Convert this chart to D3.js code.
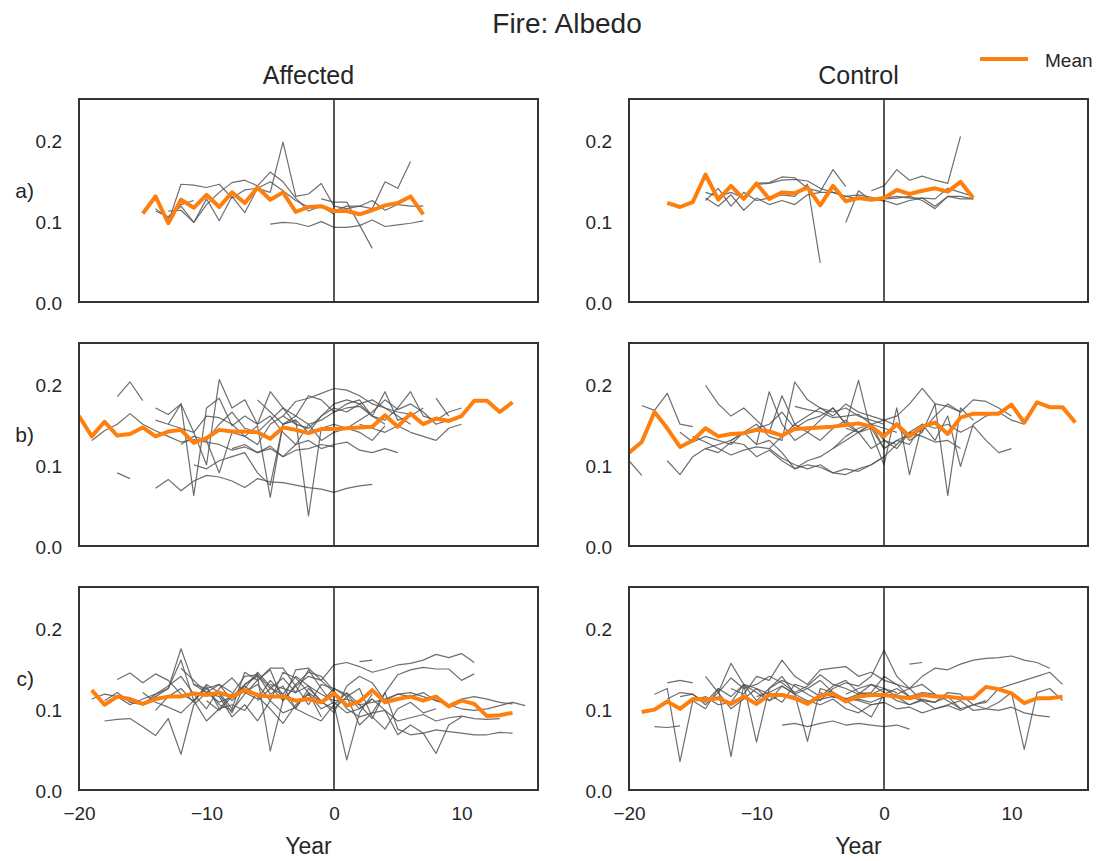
<!DOCTYPE html>
<html>
<head>
<meta charset="utf-8">
<script src="https://cdn.jsdelivr.net/npm/d3@7"></script>
<style>
body { margin: 0; background: #fff; }
text { font-family: "Liberation Sans", Arial, sans-serif; fill: #262626; }
</style>
</head>
<body>
<svg id="fig" width="1110" height="861"></svg>
<script>
// labels / ticks
var title = "Fire: Albedo";
var colTitles = ["Affected", "Control"];
var rowLabels = ["a)", "b)", "c)"];
var yTicks = [0, 0.1, 0.2];
var xTicks = [-20, -10, 0, 10];

// mean series: [first year, values]
var meanAffectedA = [-15, [0.109,0.130,0.097,0.126,0.116,0.132,0.117,0.135,0.122,0.141,0.126,0.135,0.111,0.117,0.118,0.112,0.112,0.108,0.113,0.119,0.122,0.130,0.108]];
var meanControlA = [-17, [0.122,0.117,0.123,0.157,0.126,0.143,0.127,0.146,0.127,0.135,0.134,0.141,0.119,0.143,0.124,0.128,0.126,0.128,0.138,0.133,0.137,0.140,0.136,0.148,0.128]];
var meanAffectedB = [-20, [0.160,0.135,0.153,0.136,0.138,0.146,0.135,0.141,0.143,0.127,0.133,0.143,0.141,0.141,0.140,0.132,0.146,0.143,0.139,0.144,0.144,0.145,0.146,0.147,0.161,0.147,0.163,0.150,0.157,0.154,0.160,0.179,0.179,0.165,0.177]];
var meanControlB = [-20, [0.115,0.128,0.165,0.145,0.122,0.130,0.145,0.135,0.138,0.139,0.143,0.141,0.136,0.144,0.145,0.146,0.147,0.149,0.151,0.147,0.135,0.150,0.135,0.147,0.152,0.138,0.158,0.163,0.163,0.163,0.174,0.152,0.177,0.171,0.171,0.152]];
var meanAffectedC = [-19, [0.123,0.105,0.115,0.112,0.106,0.112,0.115,0.115,0.119,0.117,0.120,0.115,0.123,0.117,0.115,0.115,0.110,0.112,0.108,0.119,0.104,0.109,0.123,0.108,0.112,0.115,0.110,0.115,0.103,0.110,0.106,0.091,0.092,0.095]];
var meanControlC = [-19, [0.096,0.099,0.109,0.100,0.112,0.111,0.113,0.106,0.115,0.106,0.117,0.117,0.113,0.106,0.116,0.119,0.109,0.115,0.117,0.117,0.115,0.113,0.117,0.115,0.115,0.113,0.113,0.127,0.124,0.119,0.107,0.113,0.113,0.115]];

// individual sites: [first year, values]
var greyAffectedA = [
  [-13, [0.098,0.145,0.144,0.141,0.145,0.128,0.138,0.140,0.148,0.137,0.125,0.117]],
  [-14, [0.115,0.103,0.118,0.098,0.120,0.135,0.147,0.150,0.143,0.160,0.148,0.128,0.112,0.118,0.108]],
  [-13, [0.112,0.113,0.098,0.127,0.100,0.130,0.110,0.140,0.135,0.197,0.130,0.133,0.146,0.118,0.115,0.118,0.115,0.148,0.140,0.173]],
  [-5, [0.096,0.098,0.097,0.093,0.099,0.092,0.092,0.094,0.101,0.093,0.095,0.097,0.100]],
  [-1, [0.127,0.123,0.123,0.095,0.066]],
  [0, [0.112,0.118,0.118,0.125,0.113,0.120,0.118,0.118]],
  [-14, [0.112,0.105,0.120,0.125]]
];
var greyControlA = [
  [-14, [0.128,0.118,0.132,0.113,0.128,0.120,0.125,0.120,0.132,0.135,0.135,0.130,0.127,0.126,0.125,0.120,0.125,0.128,0.127,0.140,0.135,0.130]],
  [-14, [0.125,0.140,0.118,0.135,0.125,0.128,0.132,0.130,0.145,0.048]],
  [-10, [0.146,0.147,0.154,0.153,0.140,0.136,0.163,0.142]],
  [-3, [0.098,0.137,0.125,0.127,0.128,0.130,0.125,0.115,0.130,0.127,0.127]],
  [-1, [0.137,0.143,0.163,0.150,0.155,0.150,0.146,0.204]],
  [0, [0.128,0.130,0.128,0.128,0.118,0.130,0.130,0.127]],
  [-14, [0.135,0.130,0.135,0.128,0.145,0.146,0.150,0.151,0.149,0.140,0.135,0.130,0.132,0.129,0.124]]
];
var greyAffectedB = [
  [-17, [0.184,0.202,0.179]],
  [-17, [0.090,0.083]],
  [-14, [0.071,0.082,0.068,0.080,0.087,0.085,0.080,0.072,0.083,0.079,0.078,0.075,0.072,0.070,0.066,0.071,0.074,0.076]],
  [-19, [0.130,0.142,0.150,0.163,0.150,0.142,0.135,0.128,0.131,0.128,0.125,0.118,0.122,0.115,0.123,0.110,0.118,0.120,0.125,0.122]],
  [-14, [0.170,0.162,0.175,0.140,0.100,0.205,0.170,0.180,0.150,0.160,0.140,0.125,0.150,0.155,0.165,0.170,0.172,0.160,0.150]],
  [-13, [0.150,0.175,0.062,0.170,0.182,0.148,0.160,0.150,0.190,0.170,0.160,0.185,0.180,0.165,0.175,0.180,0.160,0.190,0.155,0.160,0.170]],
  [-12, [0.125,0.135,0.130,0.090,0.140,0.135,0.148,0.060,0.150,0.160,0.150,0.130,0.140,0.145,0.155,0.165,0.180,0.168,0.175,0.165,0.150,0.155]],
  [-11, [0.100,0.095,0.105,0.110,0.115,0.090,0.075,0.150,0.155,0.037,0.145,0.150,0.145,0.140,0.130,0.148]],
  [-6, [0.180,0.165,0.150,0.155,0.140,0.160,0.175,0.180,0.175,0.160,0.155,0.170,0.190,0.160,0.155,0.165,0.170]],
  [-4, [0.160,0.178,0.182,0.188,0.194,0.192,0.185,0.175,0.170,0.165,0.162]],
  [8, [0.182,0.160]],
  [2, [0.150,0.145,0.140,0.148,0.140,0.135,0.130,0.145,0.150]],
  [-8, [0.120,0.125,0.115,0.120,0.110,0.125,0.130,0.120,0.125,0.128,0.118,0.115,0.120,0.115]],
  [-14, [0.155,0.150,0.145,0.140,0.160,0.158,0.150,0.135,0.125,0.150,0.160,0.150,0.145]],
  [-10, [0.130,0.150,0.165,0.145,0.140,0.155,0.170,0.150,0.145,0.160,0.170,0.165,0.175,0.180,0.170,0.160,0.150]]
];
var greyControlB = [
  [-20, [0.105,0.087]],
  [-19, [0.173,0.167,0.188,0.150,0.147]],
  [-17, [0.105,0.088,0.110,0.120,0.115,0.128,0.125,0.110,0.118,0.105,0.095,0.100,0.097,0.090,0.095,0.092,0.100,0.110,0.125]],
  [-14, [0.198,0.175,0.160,0.170,0.155,0.140,0.185,0.150,0.160,0.170,0.165,0.170,0.160,0.155,0.150]],
  [-14, [0.120,0.125,0.130,0.140,0.150,0.135,0.130,0.202,0.180,0.170,0.160,0.175,0.165,0.160,0.155,0.148,0.130,0.140,0.175,0.172,0.165]],
  [-12, [0.130,0.140,0.125,0.190,0.150,0.130,0.140,0.155,0.170,0.150,0.204,0.140,0.100,0.170,0.088,0.150]],
  [-10, [0.125,0.130,0.115,0.095,0.105,0.110,0.120,0.130,0.140,0.150,0.155,0.160,0.175,0.194,0.175,0.062,0.170,0.155]],
  [-4, [0.120,0.135,0.145,0.150,0.130,0.120,0.140,0.150,0.130,0.160,0.098,0.150,0.160,0.165,0.155,0.150]],
  [-15, [0.135,0.128,0.120,0.112,0.118,0.122,0.120,0.108,0.100,0.095,0.100,0.090,0.088,0.095,0.100,0.110]],
  [-3, [0.145,0.140,0.150,0.120,0.130,0.138,0.142,0.160,0.175,0.165,0.180,0.178,0.170,0.160]],
  [-16, [0.140,0.128,0.135,0.130,0.125,0.140,0.145,0.150,0.165,0.145,0.155,0.160,0.170,0.150,0.140,0.145,0.120,0.130,0.125,0.150,0.145]],
  [4, [0.145,0.150,0.140,0.148,0.130,0.115,0.120]],
  [-7, [0.172,0.168,0.165,0.158,0.160,0.162,0.150,0.145,0.140]],
  [-9, [0.120,0.135,0.150,0.140,0.130,0.145,0.155,0.140,0.120,0.130,0.125,0.140,0.135,0.128,0.130,0.120]]
];
var greyAffectedC = [
  [-17, [0.136,0.144,0.132,0.143,0.135,0.118,0.110,0.125,0.130,0.120]],
  [-18, [0.085,0.087,0.088,0.078,0.067,0.088,0.044,0.105,0.120,0.115,0.090,0.105,0.085,0.110,0.095,0.102,0.120,0.090]],
  [-19, [0.112,0.118,0.115,0.105,0.112,0.118,0.125,0.174,0.130,0.120,0.108,0.115,0.130,0.140,0.048,0.110,0.128,0.140,0.135,0.120]],
  [-18, [0.110,0.120,0.108,0.105,0.115,0.125,0.160,0.110,0.085,0.100,0.118,0.140,0.142,0.118,0.128,0.100,0.092,0.085,0.105,0.037,0.095,0.118]],
  [-14, [0.098,0.115,0.125,0.108,0.130,0.120,0.100,0.145,0.135,0.148,0.110,0.130,0.145,0.140,0.122,0.100,0.090,0.095,0.098,0.068,0.080,0.070,0.045,0.080,0.090]],
  [-12, [0.150,0.135,0.120,0.130,0.110,0.125,0.145,0.128,0.110,0.148,0.150,0.135,0.154,0.157,0.152,0.145,0.149,0.154,0.156,0.160,0.167,0.163,0.168,0.157]],
  [-11, [0.130,0.125,0.105,0.098,0.118,0.135,0.150,0.150,0.128,0.105,0.130,0.125,0.115,0.080,0.095,0.120,0.142,0.148,0.151,0.149,0.149,0.135,0.143]],
  [-9, [0.118,0.095,0.130,0.142,0.125,0.138,0.120,0.148,0.125,0.105,0.120,0.105,0.088,0.120,0.075,0.068,0.070,0.074,0.072,0.070,0.068,0.068,0.071,0.070]],
  [-7, [0.120,0.112,0.135,0.118,0.100,0.125,0.110,0.095,0.128,0.140,0.132,0.110,0.118,0.120,0.115,0.110,0.105,0.100,0.098,0.100,0.104,0.108,0.104]],
  [-10, [0.110,0.098,0.115,0.128,0.115,0.100,0.082,0.105,0.118,0.100,0.108,0.095,0.100,0.112,0.098,0.085,0.089,0.093,0.085,0.089,0.091,0.088,0.087,0.088]],
  [2, [0.158,0.160]],
  [-5, [0.130,0.125,0.120,0.128,0.118,0.110,0.112,0.105,0.108,0.112,0.118,0.115,0.120,0.110,0.105,0.112,0.115,0.112,0.108,0.106]],
  [-15, [0.120,0.108,0.102,0.095,0.110,0.128,0.100,0.105,0.098,0.120]],
  [-16, [0.110,0.105,0.118,0.128,0.140,0.118,0.100,0.125,0.138,0.120,0.130,0.110,0.145,0.138,0.120,0.108,0.125,0.118,0.100,0.112]],
  [-6, [0.110,0.125,0.118,0.140,0.128,0.108,0.100,0.115,0.125,0.090,0.075,0.100,0.108,0.095,0.100]]
];
var greyControlC = [
  [-18, [0.118,0.125,0.035,0.110,0.115,0.105,0.108,0.130,0.125,0.110,0.118,0.115,0.108,0.112,0.115,0.113,0.110,0.105,0.108]],
  [-17, [0.132,0.135,0.132]],
  [-18, [0.078,0.077,0.079]],
  [-14, [0.140,0.120,0.156,0.130,0.110,0.125,0.135,0.128,0.118,0.110,0.125,0.132,0.128,0.140,0.172,0.140,0.125,0.130,0.118]],
  [-15, [0.110,0.100,0.125,0.041,0.130,0.059,0.125,0.140,0.118,0.060,0.125,0.120,0.110,0.112,0.108,0.115,0.118,0.125,0.110]],
  [-12, [0.125,0.118,0.140,0.135,0.160,0.140,0.130,0.148,0.150,0.152,0.140,0.145,0.135,0.130,0.125,0.140,0.150,0.148,0.155,0.160,0.162,0.163,0.165,0.160,0.157,0.150]],
  [-8, [0.080,0.082,0.078,0.082,0.085,0.080,0.082,0.080,0.078,0.080,0.075]],
  [-10, [0.115,0.120,0.128,0.118,0.110,0.105,0.112,0.100,0.095,0.105,0.108,0.100,0.102,0.095,0.100,0.104,0.098,0.105,0.100,0.098,0.102,0.095,0.092,0.090]],
  [-5, [0.120,0.115,0.110,0.100,0.090,0.118,0.125,0.115,0.110,0.100,0.105,0.110,0.098,0.100,0.108,0.120,0.050,0.120,0.125,0.110]],
  [2, [0.155,0.157]],
  [-13, [0.120,0.100,0.112,0.125,0.118,0.108,0.130,0.125,0.115,0.128,0.135,0.120,0.118,0.125,0.115,0.105,0.110,0.108,0.120,0.118,0.105,0.108,0.125,0.130,0.135,0.140,0.145,0.130]],
  [-16, [0.115,0.118,0.105,0.120,0.138,0.125,0.130,0.140,0.132,0.120,0.128,0.142,0.130,0.125,0.118,0.120,0.140,0.130,0.115,0.120,0.118,0.110,0.100]],
  [-3, [0.118,0.125,0.130,0.120,0.110,0.105,0.112,0.108,0.115,0.100,0.105,0.110]],
  [-17, [0.112,0.120,0.118,0.108,0.125,0.115,0.130,0.120,0.110,0.128,0.118,0.125,0.135,0.120,0.112,0.118,0.130,0.125,0.120]]
];

var panels = [
  [greyAffectedA, meanAffectedA], [greyControlA, meanControlA],
  [greyAffectedB, meanAffectedB], [greyControlB, meanControlB],
  [greyAffectedC, meanAffectedC], [greyControlC, meanControlC]
];

var lefts = [79, 629];
var tops = [99, 343, 587];
var pw = 459, ph = 203;

var svg = d3.select("#fig");

var x = d3.scaleLinear().domain([-20, 16]).range([0, pw]);
var y = d3.scaleLinear().domain([0, 0.25]).range([ph, 0]);

function toPoints(s) {
  return s[1].map(function(v, i){ return [s[0] + i, v]; });
}
var line = d3.line()
  .x(function(d){ return x(d[0]); })
  .y(function(d){ return y(d[1]); });

svg.append("text")
  .attr("x", 567).attr("y", 33)
  .attr("text-anchor", "middle")
  .attr("font-size", 28)
  .text(title);

panels.forEach(function(p, k){
  var row = Math.floor(k / 2), col = k % 2;
  var g = svg.append("g")
    .attr("transform", "translate(" + lefts[col] + "," + tops[row] + ")");

  g.append("clipPath").attr("id", "clip" + k)
    .append("rect").attr("width", pw).attr("height", ph);

  var plot = g.append("g").attr("clip-path", "url(#clip" + k + ")");

  plot.selectAll(".site")
    .data(p[0])
    .enter()
    .append("path")
    .attr("class", "site")
    .attr("d", function(s){ return line(toPoints(s)); })
    .attr("fill", "none")
    .attr("stroke", "#555")
    .attr("stroke-opacity", 0.85)
    .attr("stroke-width", 1.2)
    .attr("stroke-linejoin", "round");

  plot.append("line")
    .attr("x1", x(0)).attr("x2", x(0))
    .attr("y1", 0).attr("y2", ph)
    .attr("stroke", "#111")
    .attr("stroke-width", 1.4);

  plot.append("path")
    .attr("d", line(toPoints(p[1])))
    .attr("fill", "none")
    .attr("stroke", "#ff7f0e")
    .attr("stroke-width", 4)
    .attr("stroke-linejoin", "round");

  // y axis
  g.append("g")
    .call(d3.axisLeft(y).tickValues(yTicks).tickFormat(d3.format(".1f")).tickSize(0).tickPadding(17))
    .attr("font-size", 19)
    .attr("font-family", "Liberation Sans, Arial, sans-serif")
    .call(function(a){ a.select(".domain").remove(); })
    .selectAll("text").attr("fill", "#262626").attr("dy", "0.4em");

  if (row == 2) {
    g.append("g")
      .attr("transform", "translate(0," + ph + ")")
      .call(d3.axisBottom(x).tickValues(xTicks).tickSize(0).tickPadding(17))
      .attr("font-size", 19)
      .attr("font-family", "Liberation Sans, Arial, sans-serif")
      .call(function(a){ a.select(".domain").remove(); })
      .selectAll("text").attr("fill", "#262626");

    g.append("text")
      .attr("x", pw / 2).attr("y", ph + 64)
      .attr("text-anchor", "middle")
      .attr("font-size", 23)
      .text("Year");
  }

  if (row == 0) {
    g.append("text")
      .attr("x", pw / 2).attr("y", -15)
      .attr("text-anchor", "middle")
      .attr("font-size", 25)
      .text(colTitles[col]);
  }

  if (col == 0) {
    g.append("text")
      .attr("x", -45).attr("y", ph / 2 - 3)
      .attr("text-anchor", "end")
      .attr("font-size", 21)
      .text(rowLabels[row]);
  }

  g.append("rect")
    .attr("width", pw).attr("height", ph)
    .attr("fill", "none")
    .attr("stroke", "#333")
    .attr("stroke-width", 2);
});

// legend
svg.append("line")
  .attr("x1", 980).attr("x2", 1028)
  .attr("y1", 59).attr("y2", 59)
  .attr("stroke", "#ff7f0e")
  .attr("stroke-width", 4);
svg.append("text")
  .attr("x", 1045).attr("y", 67)
  .attr("font-size", 19)
  .text("Mean");
</script>
</body>
</html>
